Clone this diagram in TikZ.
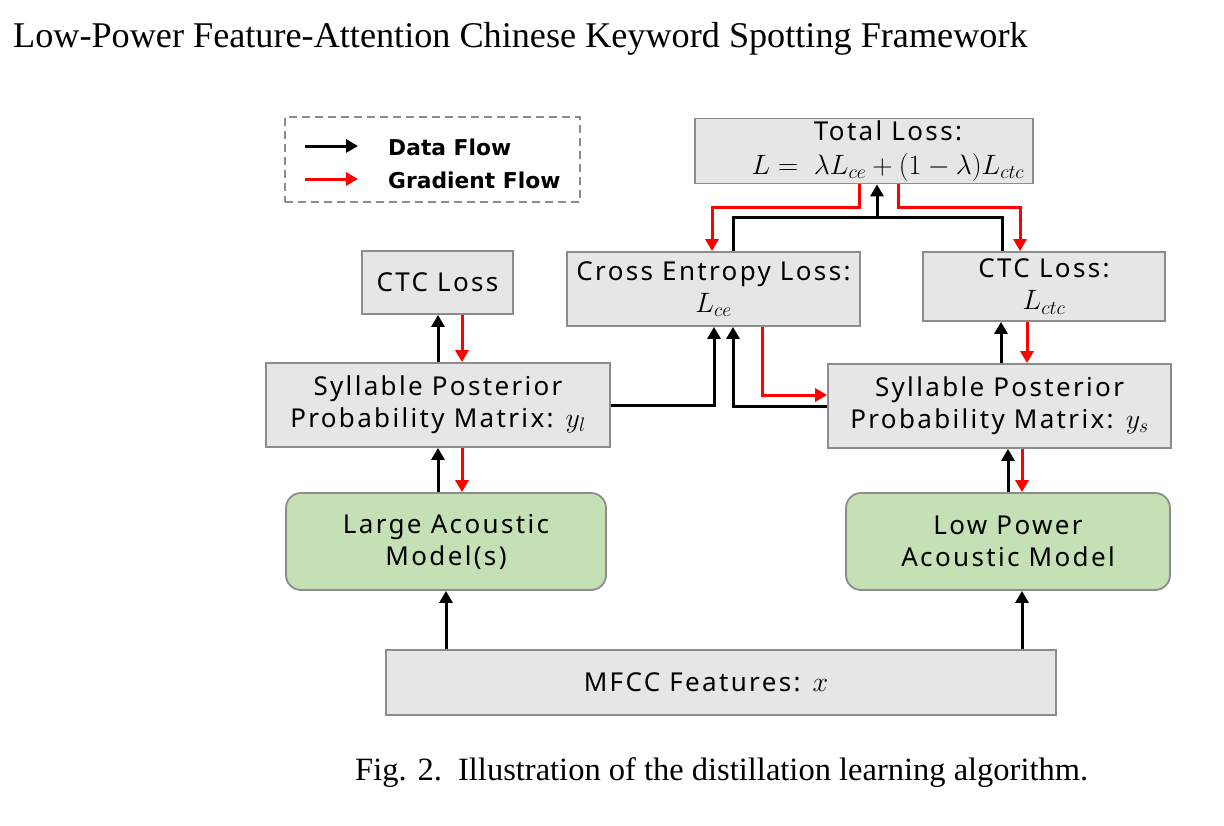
\RequirePackage{fix-cm}
\documentclass[tikz,border=0pt]{standalone}
\usepackage{fontspec}
\usetikzlibrary{arrows.meta}
\newfontfamily\boxfont[LetterSpace=9]{Noto Sans}
\newfontfamily\legfont{DejaVu Sans}
\newfontfamily\capfont{Liberation Serif}
\definecolor{boxfill}{HTML}{E6E6E6}
\definecolor{boxline}{HTML}{8C8C8C}
\definecolor{greenfill}{HTML}{C5E0B4}
\definecolor{gradred}{HTML}{FF0000}
\newcommand{\mthx}[1]{{\fontsize{28}{32}\selectfont$#1$}}
\begin{document}
\begin{tikzpicture}[x=1pt,y=-1pt,
  box/.style={draw=boxline, line width=1.8pt, fill=boxfill, inner sep=0pt, align=center,
    font=\boxfont\fontsize{26}{32}\selectfont},
  gbox/.style={box, fill=greenfill, rounded corners=15pt},
  data/.style={draw=black, line width=3pt, -{Triangle[length=12pt,width=13pt]}},
  dline/.style={draw=black, line width=3pt},
  grad/.style={draw=gradred, line width=3pt, -{Triangle[length=12pt,width=13pt]}},
  legendtext/.style={anchor=west, inner sep=0pt, font=\legfont\bfseries\fontsize{21.8}{25}\selectfont}
]
\useasboundingbox (0,0) rectangle (1224,825);
\fill[white] (0,0) rectangle (1224,825);

% title and caption
\node[anchor=base west, inner sep=0pt, font=\capfont\fontsize{36.2}{42}\selectfont] (title) at (13,47)
  {Low-Power Feature-Attention Chinese Keyword Spotting Framework};
\node[anchor=base west, inner sep=0pt, font=\capfont\fontsize{32.5}{38}\selectfont] (caption) at (355,780)
  {Fig. 2.\ \ Illustration of the distillation learning algorithm.};

% legend
\node[draw=boxline, dashed, dash pattern=on 8pt off 5pt, line width=2pt, minimum width=295pt, minimum height=85pt, inner sep=0pt] (legend) at (432.5,159.5) {};
\coordinate (lda) at (305,146);
\coordinate (ldb) at (358,146);
\coordinate (lga) at (305,179);
\coordinate (lgb) at (358,179);
\draw[data] (lda) -- (ldb);
\draw[grad] (lga) -- (lgb);
\node[legendtext] (ldt) at (388,147) {Data Flow};
\node[legendtext] (lgt) at (388,180) {Gradient Flow};

% boxes
\node[box, minimum width=338pt, minimum height=65pt] (total) at (864,151)
  {\hspace*{48pt}Total Loss:\\[2pt] \hspace*{48pt}\mthx{L =\; \lambda L_{ce} + (1-\lambda)L_{ctc}}};
\node[box, minimum width=293pt, minimum height=74pt] (ce) at (713.5,289)
  {Cross Entropy Loss:\\ \mthx{L_{ce}}};
\node[box, minimum width=242pt, minimum height=69pt] (ctcR) at (1044,286.5)
  {CTC Loss:\\ \mthx{L_{ctc}}};
\node[box, minimum width=151pt, minimum height=63pt] (ctcL) at (437.5,282.5)
  {CTC Loss};
\node[box, minimum width=344pt, minimum height=84pt] (syllL) at (438,405)
  {Syllable Posterior\\ Probability Matrix: \mthx{y_l}};
\node[box, minimum width=343pt, minimum height=84pt] (syllR) at (999.5,406)
  {Syllable Posterior\\ Probability Matrix: \mthx{y_s}};
\node[gbox, minimum width=320pt, minimum height=97pt] (large) at (446,541.5)
  {Large Acoustic\\ Model(s)};
\node[gbox, minimum width=324pt, minimum height=97pt] (low) at (1008,541.5)
  {Low Power\\ Acoustic Model};
\node[box, minimum width=670pt, minimum height=65pt] (mfcc) at (721,682.5)
  {MFCC Features: \mthx{x}\hspace*{30pt}};

% MFCC to acoustic models
\draw[data] (446,0 |- mfcc.north) -- (446,0 |- large.south);
\draw[data] (1022,0 |- mfcc.north) -- (1022,0 |- low.south);

% acoustic models <-> syllable matrices
\draw[data] (438,0 |- large.north) -- (438,0 |- syllL.south);
\draw[grad] (462,0 |- syllL.south) -- (462,0 |- large.north);
\draw[data] (1008,0 |- low.north) -- (1008,0 |- syllR.south);
\draw[grad] (1022,0 |- syllR.south) -- (1022,0 |- low.north);

% syllable matrices <-> CTC losses
\draw[data] (438,0 |- syllL.north) -- (438,0 |- ctcL.south);
\draw[grad] (462,0 |- ctcL.south) -- (462,0 |- syllL.north);
\draw[data] (1001,0 |- syllR.north) -- (1001,0 |- ctcR.south);
\draw[grad] (1027,0 |- ctcR.south) -- (1027,0 |- syllR.north);

% syllable matrices -> cross entropy
\draw[data] (syllL.east) -| (714,0 |- ce.south);
\draw[data] (syllR.west) -| (733,0 |- ce.south);
\draw[grad] (762,0 |- ce.south) |- (syllR.west |- 0,395);

% losses -> total
\coordinate (jn) at (877,217);
\draw[dline] (733,0 |- ce.north) |- (jn) -| (1002,0 |- ctcR.north);
\draw[data] (jn) -- (877,0 |- total.south);
\draw[grad] (859,0 |- total.south) |- (712,207) -- (712,0 |- ce.north);
\draw[grad] (898,0 |- total.south) |- (1020,207) -- (1020,0 |- ctcR.north);
\end{tikzpicture}
\end{document}
